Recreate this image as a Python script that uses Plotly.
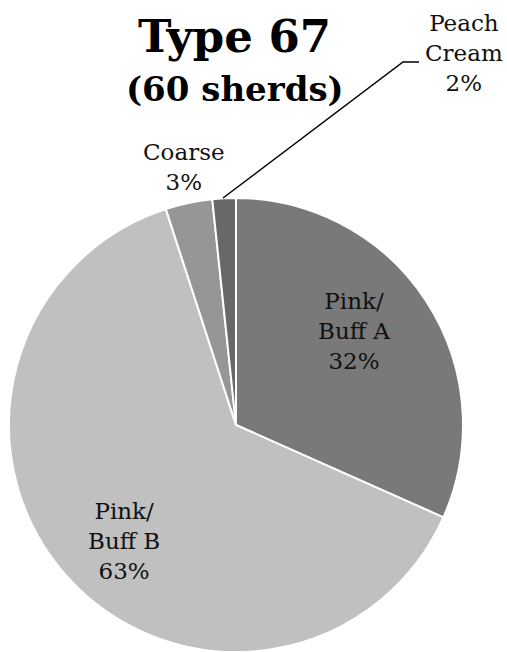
import plotly.graph_objects as go

W, H = 507, 652

categories = ["Pink/<br>Buff A", "Pink/<br>Buff B", "Coarse", "Peach<br>Cream"]
sherds = [19, 38, 2, 1]
colors = ["#797979", "#c0c0c0", "#969696", "#686868"]
pct_labels = ["32%", "63%", "3%", "2%"]

title_main = "Type 67"
title_sub = "(60 sherds)"

# label anchor positions in pixels (layout only)
label_px = [(354, 331), (124, 541), (184, 167), (464, 53)]

FONT = "Georgia, 'DejaVu Serif', serif"

def px(x, y):
    return x / W, 1 - y / H

fig = go.Figure()
fig.add_trace(go.Pie(
    values=sherds,
    labels=categories,
    sort=False,
    direction="clockwise",
    rotation=0,
    marker=dict(colors=colors, line=dict(color="white", width=2)),
    textinfo="none",
    hoverinfo="label+percent",
    domain=dict(x=[9 / W, 463 / W], y=[0, 454 / H]),
))

annotations = []
for cat, pct, (lx, ly) in zip(categories, pct_labels, label_px):
    ax_, ay_ = px(lx, ly)
    annotations.append(dict(
        x=ax_, y=ay_, xref="paper", yref="paper",
        text=f"{cat}<br>{pct}", showarrow=False,
        font=dict(family=FONT, size=23, color="#111"),
        xanchor="center", yanchor="middle", align="center",
    ))

tx, ty = px(234, 36)
annotations.append(dict(x=tx, y=ty, xref="paper", yref="paper", text=f"<b>{title_main}</b>",
                        showarrow=False, font=dict(family=FONT, size=45, color="black"),
                        xanchor="center", yanchor="middle"))
sx, sy = px(235, 89)
annotations.append(dict(x=sx, y=sy, xref="paper", yref="paper", text=f"<b>{title_sub}</b>",
                        showarrow=False, font=dict(family=FONT, size=34, color="black"),
                        xanchor="center", yanchor="middle"))

# leader line for Peach Cream
p0 = px(223, 198)
p1 = px(403, 62)
p2 = px(419, 62)
path = f"M {p0[0]} {p0[1]} L {p1[0]} {p1[1]} L {p2[0]} {p2[1]}"

fig.update_layout(
    width=W, height=H,
    margin=dict(l=0, r=0, t=0, b=0),
    paper_bgcolor="white",
    plot_bgcolor="white",
    showlegend=False,
    annotations=annotations,
    shapes=[dict(type="path", path=path, xref="paper", yref="paper",
                 line=dict(color="black", width=1.5))],
)

fig.write_html("out.html", config={"displayModeBar": False},
               post_script="document.body.style.margin='0';")
